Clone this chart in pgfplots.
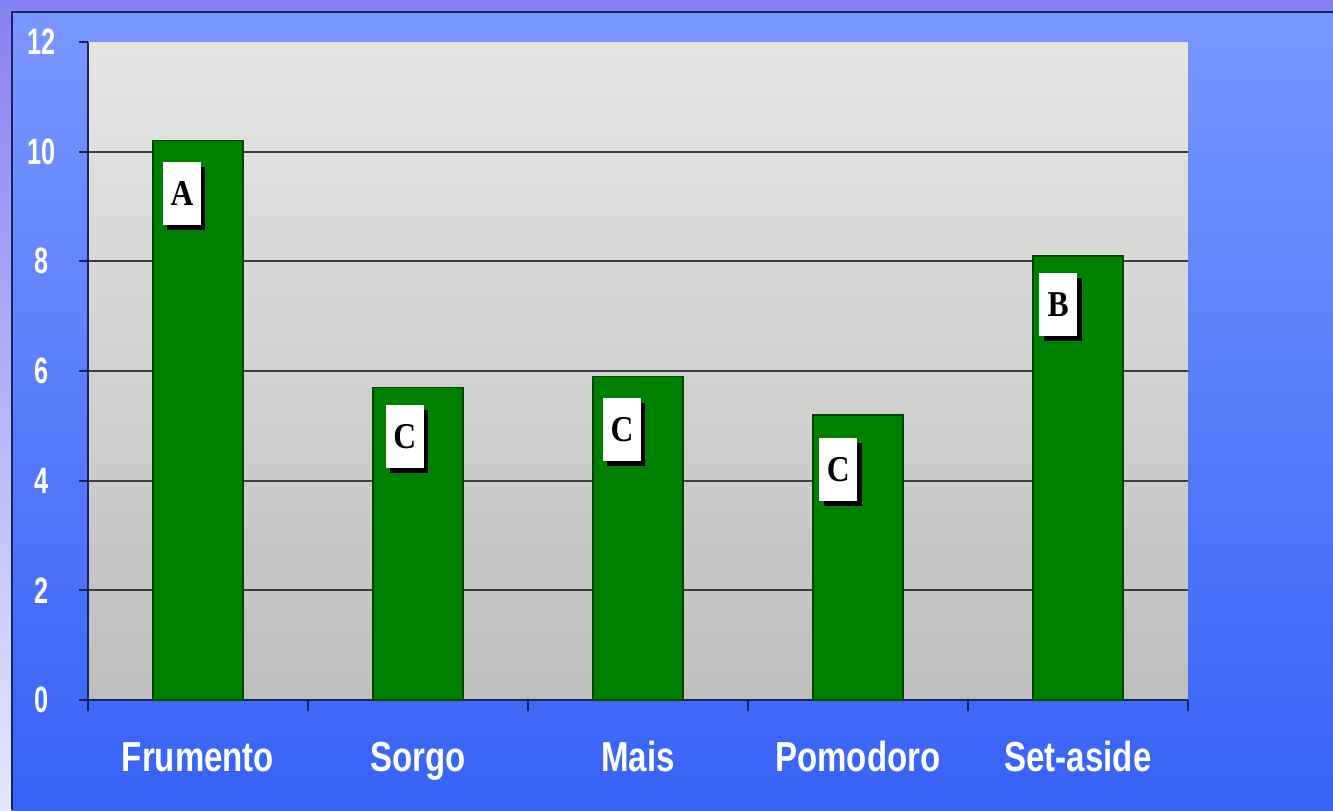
\documentclass[border=0pt]{standalone}
\usepackage{graphicx}
\usepackage{pgfplots}
\pgfplotsset{compat=1.18}
\usepackage{fontspec}
\setmainfont{Liberation Sans}
\newfontfamily\lettfont{Liberation Serif}
\usetikzlibrary{shadows}
\definecolor{bargreen}{RGB}{0,128,0}
\definecolor{baredge}{RGB}{0,70,0}
\definecolor{navy}{RGB}{25,35,100}
\definecolor{outtop}{RGB}{135,128,240}
\definecolor{outbot}{RGB}{230,232,255}
\definecolor{intop}{RGB}{122,150,255}
\definecolor{inbot}{RGB}{55,98,245}
\definecolor{plottop}{RGB}{230,230,228}
\definecolor{plotbot}{RGB}{190,190,190}
\definecolor{gridc}{RGB}{60,60,60}
% stretched bold labels, as in the reference
\newcommand{\tl}[1]{\scalebox{1}[1.45]{#1}}
\newcommand{\cl}[1]{\scalebox{1}[1.27]{#1}}
\tikzset{box/.style={fill=white, minimum width=3.8mm, minimum height=6.3mm, inner sep=0pt,
    font=\lettfont\bfseries\fontsize{9}{10}\selectfont,
    drop shadow={shadow xshift=0.45mm, shadow yshift=-0.45mm, fill=black, opacity=1}}}
\begin{document}
\begin{tikzpicture}
\useasboundingbox (0,0) rectangle (133.3mm,81mm);
\shade[top color=outtop, bottom color=outbot] (0,0) rectangle (133.3mm,81mm);
\shade[top color=intop, bottom color=inbot] (1.2mm,0) rectangle (133.3mm,79.8mm);
\draw[navy, line width=0.25mm] (1.2mm,0) -- (1.2mm,79.8mm) -- (133.3mm,79.8mm);
\begin{axis}[
    at={(8.8mm,11mm)}, anchor=south west,
    scale only axis,
    width=110mm, height=65.8mm,
    xmin=0.5, xmax=5.5,
    ymin=0, ymax=12,
    axis lines=left,
    axis line style={-, draw=navy, line width=0.2mm},
    axis background/.style={shade, top color=plottop, bottom color=plotbot},
    tick align=outside,
    tick style={draw=navy, line width=0.2mm},
    major tick length=0.9mm,
    minor tick length=1.1mm,
    xtick={1,2,3,4,5},
    xticklabels={\cl{Frumento},\cl{Sorgo},\cl{Mais},\cl{Pomodoro},\cl{Set-aside}},
    major x tick style={draw=none},
    minor xtick={0.5,1.5,2.5,3.5,4.5,5.5},
    xticklabel style={anchor=base, yshift=-6.2mm, text=white,
        font=\fontsize{9.4}{11}\selectfont\bfseries},
    ytick={0,2,4,6,8,10},
    yticklabels={\tl{0},\tl{2},\tl{4},\tl{6},\tl{8},\tl{10}},
    extra y ticks={12},
    extra y tick labels={\tl{12}},
    extra y tick style={grid=none},
    yticklabel style={anchor=center, xshift=-3.7mm, text=white,
        font=\fontsize{7.2}{9}\selectfont\bfseries},
    ymajorgrids,
    major grid style={draw=gridc, line width=0.18mm},
]
\addplot[ybar, bar width=9mm, fill=bargreen, draw=baredge, line width=0.15mm] coordinates {
    (1, 10.2)
    (2, 5.7)
    (3, 5.9)
    (4, 5.2)
    (5, 8.1)
};
\node[box] at (axis cs:0.927,9.23) {\scalebox{1}[1.15]{A}};
\node[box] at (axis cs:1.94,4.80) {\scalebox{1}[1.15]{C}};
\node[box] at (axis cs:2.927,4.93) {\scalebox{1}[1.15]{C}};
\node[box] at (axis cs:3.91,4.20) {\scalebox{1}[1.15]{C}};
\node[box] at (axis cs:4.91,7.21) {\scalebox{1}[1.15]{B}};
\end{axis}
\end{tikzpicture}
\end{document}
